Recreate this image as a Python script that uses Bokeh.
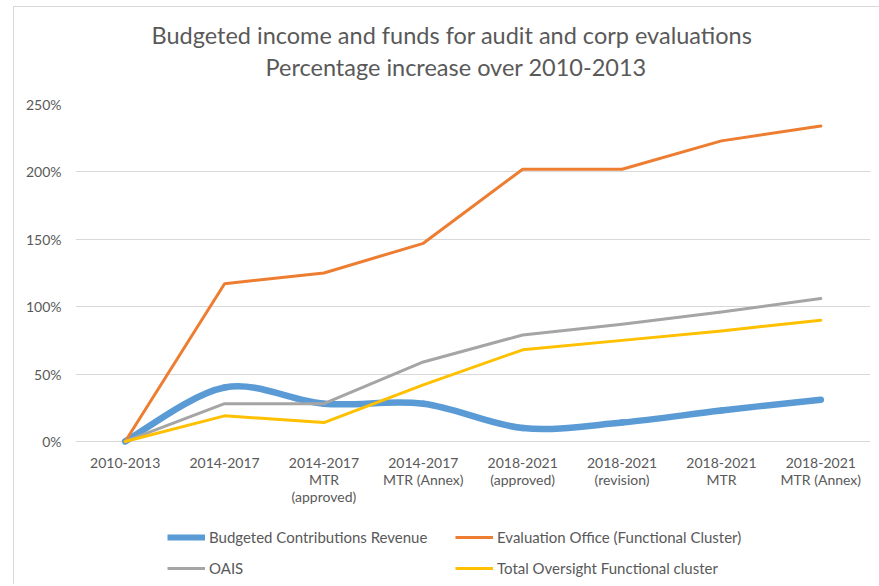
from bokeh.plotting import figure
from bokeh.layouts import column
from bokeh.models import (Title, Legend, LegendItem, FixedTicker, PrintfTickFormatter,
                          Range1d, ColumnDataSource)
from bokeh.embed import file_html
from bokeh.resources import INLINE

categories = ["2010-2013", "2014-2017", "2014-2017\nMTR\n(approved)", "2014-2017\nMTR (Annex)",
              "2018-2021\n(approved)", "2018-2021\n(revision)", "2018-2021\nMTR", "2018-2021\nMTR (Annex)"]
budgeted = [0, 40, 28, 28, 10, 14, 23, 31]
evaluation = [0, 117, 125, 147, 202, 202, 223, 234]
oais = [0, 28, 28, 59, 79, 87, 96, 106]
oversight = [0, 19, 14, 42, 68, 75, 82, 90]
y_ticks = [0, 50, 100, 150, 200, 250]
series_names = ["Budgeted Contributions Revenue", "Evaluation Office (Functional Cluster)",
                "OAIS", "Total Oversight Functional cluster"]
colors = ["#5B9BD5", "#ED7D31", "#A5A5A5", "#FFC000"]
title_lines = ["Budgeted income and funds for audit and corp evaluations",
               "Percentage increase over 2010-2013"]

FONT = "Lato"
TXT = "#595959"

x = list(range(len(categories)))
common_fig = dict(width=865, output_backend="svg", toolbar_location=None,
                  min_border_left=61, min_border_right=9)

# ---- title strip ----
head = figure(height=78, x_axis_location=None, y_axis_location=None,
              min_border_top=74, min_border_bottom=0, **common_fig)
head.outline_line_color = None
head.grid.grid_line_color = None
head.add_layout(Title(text=title_lines[1], align="left", offset=190, text_font=FONT,
                      text_font_size="23.5px", text_font_style="normal", text_color=TXT,
                      standoff=2), "above")
head.add_layout(Title(text=title_lines[0], align="left", offset=76, text_font=FONT,
                      text_font_size="23.5px", text_font_style="normal", text_color=TXT,
                      standoff=1), "above")

# ---- main chart ----
p = figure(height=430, x_range=Range1d(-0.5, len(categories) - 0.5), y_range=Range1d(-3, 250),
           min_border_top=19, min_border_bottom=70, **common_fig)
p.title = None
p.outline_line_color = None

# smooth (Excel-like) curve for the budgeted series via cubic bezier segments
n = len(budgeted)
x0, y0, x1, y1, cx0, cy0, cx1, cy1 = [], [], [], [], [], [], [], []
for i in range(n - 1):
    pm = i - 1 if i > 0 else i
    pp = i + 2 if i + 2 < n else i + 1
    x0.append(x[i]); y0.append(budgeted[i])
    x1.append(x[i + 1]); y1.append(budgeted[i + 1])
    cx0.append(x[i] + (x[i + 1] - x[pm]) / 6); cy0.append(budgeted[i] + (budgeted[i + 1] - budgeted[pm]) / 6)
    cx1.append(x[i + 1] - (x[pp] - x[i]) / 6); cy1.append(budgeted[i + 1] - (budgeted[pp] - budgeted[i]) / 6)
bsrc = ColumnDataSource(dict(x0=x0, y0=y0, x1=x1, y1=y1, cx0=cx0, cy0=cy0, cx1=cx1, cy1=cy1))
p.bezier("x0", "y0", "x1", "y1", "cx0", "cy0", "cx1", "cy1", source=bsrc,
         line_color=colors[0], line_width=6.5, line_cap="round")
p.line(x, evaluation, line_color=colors[1], line_width=3, line_cap="round", line_join="round")
p.line(x, oais, line_color=colors[2], line_width=3, line_cap="round", line_join="round")
p.line(x, oversight, line_color=colors[3], line_width=3, line_cap="round", line_join="round")

p.xaxis.ticker = FixedTicker(ticks=x)
p.xaxis.major_label_overrides = {i: c for i, c in enumerate(categories)}
p.xaxis.axis_line_color = None
p.xaxis.major_tick_line_color = None
p.xaxis.minor_tick_line_color = None
p.xaxis.major_label_text_font = FONT
p.xaxis.major_label_text_font_size = "14px"
p.xaxis.major_label_text_color = TXT
p.xaxis.major_label_text_line_height = 1.0
p.xaxis.major_label_standoff = 2

p.yaxis.ticker = FixedTicker(ticks=y_ticks)
p.yaxis.formatter = PrintfTickFormatter(format="%d%%")
p.yaxis.axis_line_color = None
p.yaxis.major_tick_line_color = None
p.yaxis.minor_tick_line_color = None
p.yaxis.major_label_text_font = FONT
p.yaxis.major_label_text_font_size = "14px"
p.yaxis.major_label_text_color = TXT
p.yaxis.major_label_standoff = 8

p.xgrid.grid_line_color = None
p.ygrid.ticker = FixedTicker(ticks=y_ticks)
p.ygrid.grid_line_color = "#d9d9d9"
p.ygrid.grid_line_width = 1

# ---- legend strip (same series, drawn outside its visible range so only the key shows) ----
leg = figure(height=69, x_axis_location=None, y_axis_location=None,
             x_range=Range1d(-0.5, len(categories) - 0.5), y_range=Range1d(300, 400),
             min_border_top=0, min_border_bottom=0, **common_fig)
leg.outline_line_color = None
leg.grid.grid_line_color = None
all_series = [budgeted, evaluation, oais, oversight]
widths = [6, 3, 3, 3]
proxies = [leg.line(x, s, line_color=c, line_width=w) for s, c, w in zip(all_series, colors, widths)]

common = dict(orientation="vertical", border_line_color=None, background_fill_alpha=0,
              label_text_font=FONT, label_text_font_size="15px", label_text_color=TXT,
              glyph_width=38, glyph_height=20, label_standoff=4, spacing=11, padding=4, margin=0)
legend_a = Legend(items=[LegendItem(label=series_names[0], renderers=[proxies[0]]),
                         LegendItem(label=series_names[2], renderers=[proxies[2]])],
                  location=(92, 6), **common)
legend_b = Legend(items=[LegendItem(label=series_names[1], renderers=[proxies[1]]),
                         LegendItem(label=series_names[3], renderers=[proxies[3]])],
                  location=(380, 6), **common)
leg.add_layout(legend_a)
leg.add_layout(legend_b)

page = column(head, p, leg, spacing=0,
              styles={"margin-left": "13px", "margin-top": "6px",
                      "border-left": "1px solid #d9d9d9", "border-top": "1px solid #d9d9d9"})

open("out.html", "w").write(file_html(page, INLINE))
